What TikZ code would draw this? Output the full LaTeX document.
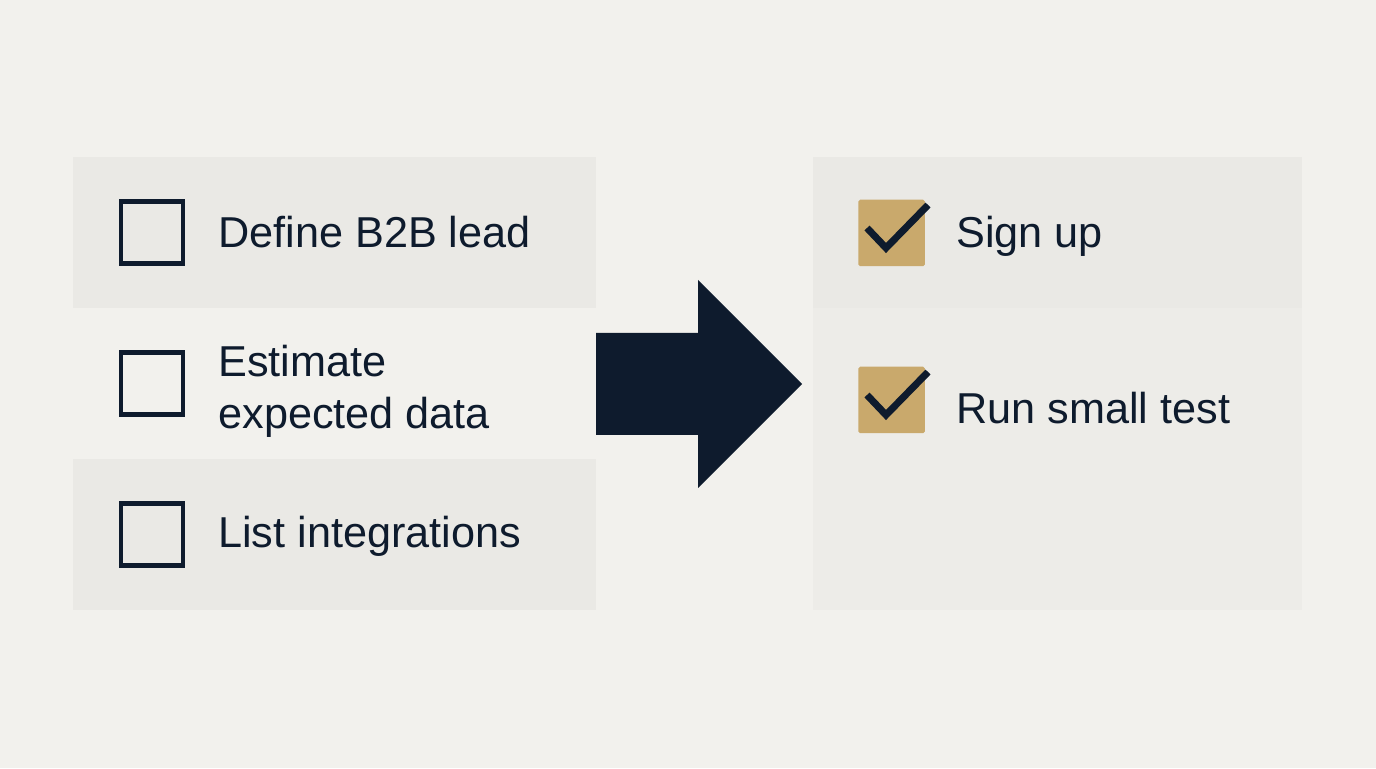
\documentclass[tikz,border=0pt]{standalone}
\usepackage{fontspec}
\setmainfont{Liberation Sans}
\usetikzlibrary{calc,positioning}
\definecolor{Paper}{HTML}{F2F1ED}
\definecolor{Band}{HTML}{EAE9E5}
\definecolor{BandLight}{HTML}{EDECE8}
\definecolor{Ink}{HTML}{0E1B2D}
\definecolor{Gold}{HTML}{C9A96C}

\begin{document}
\begin{tikzpicture}[
        todobox/.style={rectangle,draw=Ink,line width=2.3pt,minimum size=1.24cm,inner sep=0pt},
        donebox/.style={rectangle,fill=Gold,rounded corners=1pt,minimum size=1.33cm,inner sep=0pt},
        tick/.style={draw=Ink,line width=4pt},
        item/.style={anchor=base west,inner sep=0pt,text=Ink,font=\fontsize{24.6}{29.5}\selectfont,align=left}]
        \fill[Paper] (0,0) rectangle (27.52,15.36);
        \useasboundingbox (0,0) rectangle (27.52,15.36);
        % left list
        \fill[Band] (1.46,9.2) rectangle (11.92,12.22);
        \fill[Band] (1.46,3.16) rectangle (11.92,6.18);
        \node[todobox] (b1) at (3.04,10.71) {};
        \node[todobox] (b2) at (3.04,7.69) {};
        \node[todobox] (b3) at (3.04,4.67) {};
        \node[item] (t1) at (4.36,10.4) {Define B2B lead};
        \node[item,anchor=north west] (t2) at (4.36,8.46) {Estimate\\expected data};
        \node[item] (t3) at (4.36,4.4) {List integrations};
        % big arrow
        \fill[Ink] (11.92,8.70) -- (13.96,8.70) -- (13.96,9.76) -- (16.04,7.68)
          -- (13.96,5.6) -- (13.96,6.66) -- (11.92,6.66) -- cycle;
        % right list
        \fill[BandLight] (16.26,3.16) rectangle (26.04,9.2);
        \fill[Band] (16.26,9.2) rectangle (26.04,12.22);
        \node[donebox] (d1) at (17.83,10.70) {};
        \node[donebox] (d2) at (17.83,7.36) {};
        \draw[tick] ($(d1)+(-0.49,0.10)$) -- ++(0.38,-0.40) -- ++(0.84,0.86);
        \draw[tick] ($(d2)+(-0.49,0.10)$) -- ++(0.38,-0.40) -- ++(0.84,0.86);
        \node[item] (s1) at (19.12,10.4) {Sign up};
        \node[item] (s2) at (19.12,6.88) {Run small test};
      \end{tikzpicture}
\end{document}
